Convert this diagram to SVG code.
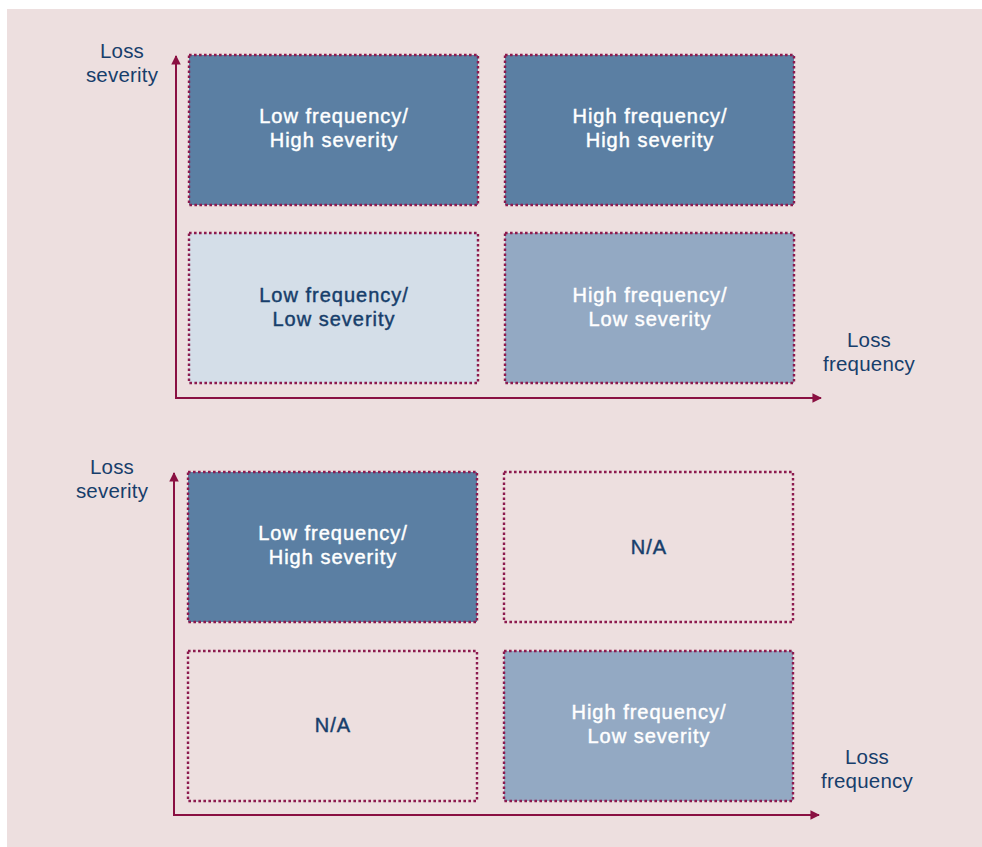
<svg xmlns="http://www.w3.org/2000/svg" width="982" height="847" viewBox="0 0 982 847">
<style>
.bg{fill:#eddfdf}
.box{stroke:#8c1a4e;stroke-width:2.4;stroke-dasharray:2.6 2.4}
.dark{fill:#5b7fa3}
.light{fill:#d4dee8}
.mid{fill:#93a9c3}
.none{fill:none}
.t{font-family:"Liberation Sans",Arial,sans-serif;font-size:20px;letter-spacing:1px;text-anchor:middle;stroke-width:0.45}
.w{fill:#ffffff;stroke:#ffffff}
.n{fill:#173e6b;stroke:#173e6b}
.ax{font-family:"Liberation Sans",Arial,sans-serif;font-size:20.5px;letter-spacing:0.2px;text-anchor:middle;fill:#173e6b}
.axis{stroke:#8a1042;stroke-width:2;fill:none}
</style>
<defs>
<marker id="ah" viewBox="0 0 10 10" refX="9" refY="5" markerWidth="9.5" markerHeight="9.5" markerUnits="userSpaceOnUse" orient="auto">
<path d="M0,0 L10,5 L0,10 z" fill="#8a1042"/>
</marker>
</defs>
<rect class="bg" x="7" y="9" width="975" height="838"/>

<g id="connectors">
<path class="axis" d="M176,399 V56" marker-end="url(#ah)"/>
<path class="axis" d="M175,398 H821" marker-end="url(#ah)"/>
<path class="axis" d="M174,816 V473" marker-end="url(#ah)"/>
<path class="axis" d="M173,815 H819" marker-end="url(#ah)"/>
</g>

<g id="top-y-label"><text class="ax" x="122" y="58">Loss</text><text class="ax" x="122" y="82">severity</text></g>
<g id="top-x-label"><text class="ax" x="869" y="347">Loss</text><text class="ax" x="869" y="371">frequency</text></g>

<g id="t-lf-hs"><rect class="box dark" x="189" y="55" width="289" height="150"/>
<text class="t w" x="334" y="123">Low frequency/</text><text class="t w" x="334" y="147">High severity</text></g>
<g id="t-hf-hs"><rect class="box dark" x="505" y="55" width="289" height="150"/>
<text class="t w" x="650" y="123">High frequency/</text><text class="t w" x="650" y="147">High severity</text></g>
<g id="t-lf-ls"><rect class="box light" x="189" y="233" width="289" height="150"/>
<text class="t n" x="334" y="301.5">Low frequency/</text><text class="t n" x="334" y="325.5">Low severity</text></g>
<g id="t-hf-ls"><rect class="box mid" x="505" y="233" width="289" height="150"/>
<text class="t w" x="650" y="301.5">High frequency/</text><text class="t w" x="650" y="325.5">Low severity</text></g>

<g id="bottom-y-label"><text class="ax" x="112" y="474">Loss</text><text class="ax" x="112" y="498">severity</text></g>
<g id="bottom-x-label"><text class="ax" x="867" y="764">Loss</text><text class="ax" x="867" y="788">frequency</text></g>

<g id="b-lf-hs"><rect class="box dark" x="188" y="472" width="289" height="150"/>
<text class="t w" x="333" y="540">Low frequency/</text><text class="t w" x="333" y="564">High severity</text></g>
<g id="b-na-top"><rect class="box none" x="504" y="472" width="289" height="150"/>
<text class="t n" x="649" y="554">N/A</text></g>
<g id="b-na-bottom"><rect class="box none" x="188" y="651" width="289" height="150"/>
<text class="t n" x="333" y="732">N/A</text></g>
<g id="b-hf-ls"><rect class="box mid" x="504" y="651" width="289" height="150"/>
<text class="t w" x="649" y="719">High frequency/</text><text class="t w" x="649" y="743">Low severity</text></g>
</svg>
